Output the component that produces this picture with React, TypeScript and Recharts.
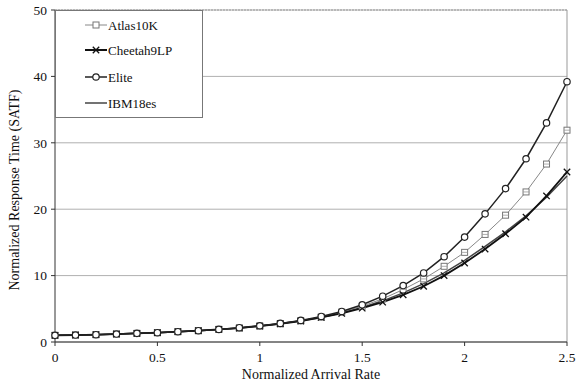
import React from 'react';
import { LineChart, Line, XAxis, YAxis, CartesianGrid, ReferenceLine } from 'recharts';

const arrivalRate = [0, 0.1, 0.2, 0.3, 0.4, 0.5, 0.6, 0.7, 0.8, 0.9, 1.0, 1.1, 1.2, 1.3, 1.4, 1.5, 1.6, 1.7, 1.8, 1.9, 2.0, 2.1, 2.2, 2.3, 2.4, 2.5];
const atlas10K = [1.0, 1.05, 1.1, 1.2, 1.3, 1.4, 1.55, 1.7, 1.9, 2.1, 2.4, 2.75, 3.2, 3.75, 4.5, 5.4, 6.5, 7.9, 9.5, 11.4, 13.5, 16.2, 19.1, 22.6, 26.8, 31.9];
const cheetah9LP = [1.0, 1.05, 1.1, 1.2, 1.3, 1.4, 1.55, 1.7, 1.9, 2.1, 2.4, 2.75, 3.15, 3.7, 4.3, 5.1, 6.0, 7.1, 8.4, 10.0, 11.9, 14.0, 16.3, 18.8, 22.0, 25.6];
const elite = [1.0, 1.05, 1.1, 1.2, 1.3, 1.4, 1.55, 1.7, 1.9, 2.15, 2.45, 2.8, 3.25, 3.85, 4.6, 5.6, 6.9, 8.5, 10.4, 12.85, 15.8, 19.3, 23.1, 27.6, 33.0, 39.2];
const ibm18es = [1.0, 1.05, 1.1, 1.2, 1.3, 1.4, 1.55, 1.7, 1.9, 2.1, 2.4, 2.75, 3.2, 3.7, 4.4, 5.2, 6.2, 7.4, 8.8, 10.4, 12.3, 14.4, 16.6, 19.0, 21.8, 25.0];
const xTicks = [0, 0.5, 1, 1.5, 2, 2.5];
const yTicks = [0, 10, 20, 30, 40, 50];
const seriesNames = ['Atlas10K', 'Cheetah9LP', 'Elite', 'IBM18es'];

const data = arrivalRate.map((x, i) => ({
  x,
  atlas: atlas10K[i],
  cheetah: cheetah9LP[i],
  elite: elite[i],
  ibm: ibm18es[i],
}));

const FONT = '"Liberation Serif", "DejaVu Serif", serif';

const SquareDot = (props: any) => {
  const { cx, cy, index } = props;
  if (cx == null || cy == null) return <g key={`s${index}`} />;
  return (
    <g key={`s${index}`}>
      <rect x={cx - 3} y={cy - 3} width={6} height={6} fill="#fff" stroke="#777" strokeWidth={1} />
      <line x1={cx - 3} y1={cy} x2={cx + 3} y2={cy} stroke="#999" strokeWidth={0.8} />
    </g>
  );
};

const CrossDot = (props: any) => {
  const { cx, cy, index } = props;
  if (cx == null || cy == null) return <g key={`c${index}`} />;
  return (
    <g key={`c${index}`}>
      <line x1={cx - 3.2} y1={cy - 3.2} x2={cx + 3.2} y2={cy + 3.2} stroke="#111" strokeWidth={1.3} />
      <line x1={cx - 3.2} y1={cy + 3.2} x2={cx + 3.2} y2={cy - 3.2} stroke="#111" strokeWidth={1.3} />
    </g>
  );
};

const CircleDot = (props: any) => {
  const { cx, cy, index } = props;
  if (cx == null || cy == null) return <g key={`e${index}`} />;
  return <circle key={`e${index}`} cx={cx} cy={cy} r={3.2} fill="#fff" stroke="#222" strokeWidth={1.2} />;
};

const legendItems = [
  { name: seriesNames[0], color: '#888', width: 1, marker: 'square', y: 15 },
  { name: seriesNames[1], color: '#111', width: 2, marker: 'cross', y: 40 },
  { name: seriesNames[2], color: '#222', width: 1.5, marker: 'circle', y: 67 },
  { name: seriesNames[3], color: '#444', width: 1.5, marker: 'none', y: 93 },
];

const LegendBox = () => (
  <svg width={148} height={108} style={{ position: 'absolute', left: 55, top: 10 }}>
    <rect x={0.5} y={0.5} width={147} height={107} fill="#fff" stroke="#777" />
    {legendItems.map((it) => (
      <g key={it.name}>
        <line x1={30} y1={it.y} x2={52} y2={it.y} stroke={it.color} strokeWidth={it.width} />
        {it.marker === 'square' && <rect x={38} y={it.y - 3} width={6} height={6} fill="#fff" stroke="#777" />}
        {it.marker === 'cross' && (
          <g>
            <line x1={37.8} y1={it.y - 3.2} x2={44.2} y2={it.y + 3.2} stroke="#111" strokeWidth={1.3} />
            <line x1={37.8} y1={it.y + 3.2} x2={44.2} y2={it.y - 3.2} stroke="#111" strokeWidth={1.3} />
          </g>
        )}
        {it.marker === 'circle' && <circle cx={41} cy={it.y} r={3.2} fill="#fff" stroke="#222" strokeWidth={1.2} />}
        <text x={53} y={it.y + 4.5} fontFamily={FONT} fontSize={13} fill="#111">{it.name}</text>
      </g>
    ))}
  </svg>
);

const YLabel = () => (
  <text
    x={14}
    y={190}
    transform="rotate(-90 14 190)"
    textAnchor="middle"
    dominantBaseline="central"
    fontFamily={FONT}
    fontSize={14}
    fill="#111"
  >
    Normalized Response Time (SATF)
  </text>
);

export default function App() {
  return (
    <div style={{ position: 'absolute', left: 0, top: 0, width: 588, height: 383, background: '#fff' }}>
      <LineChart width={588} height={383} data={data} margin={{ top: 10, right: 21, left: 0, bottom: 0 }}>
        <CartesianGrid vertical={false} stroke="#b0b0b0" strokeWidth={1} />
        <XAxis
          dataKey="x"
          type="number"
          domain={[0, 2.5]}
          ticks={xTicks}
          height={41}
          tick={{ fontFamily: FONT, fontSize: 13.5, fill: '#111' }}
          tickLine={{ stroke: '#333' }}
          axisLine={{ stroke: '#333' }}
          tickSize={4}
          tickMargin={6}
          label={{ value: 'Normalized Arrival Rate', position: 'insideBottom', offset: 4, fontFamily: FONT, fontSize: 14, fill: '#111' }}
        />
        <YAxis
          type="number"
          domain={[0, 50]}
          ticks={yTicks}
          width={55}
          tick={{ fontFamily: FONT, fontSize: 13.5, fill: '#111' }}
          tickLine={{ stroke: '#333' }}
          axisLine={{ stroke: '#333' }}
          tickSize={4}
          tickMargin={4}
        />
        <ReferenceLine x={2.5} stroke="#999" strokeWidth={1} />
        <ReferenceLine y={50} stroke="#999" strokeWidth={1} strokeDasharray="2 1" />
        <Line dataKey="ibm" name={seriesNames[3]} stroke="#444" strokeWidth={1.5} dot={false} isAnimationActive={false} />
        <Line dataKey="atlas" name={seriesNames[0]} stroke="#888" strokeWidth={1} dot={SquareDot} isAnimationActive={false} />
        <Line dataKey="cheetah" name={seriesNames[1]} stroke="#111" strokeWidth={1.8} dot={CrossDot} isAnimationActive={false} />
        <Line dataKey="elite" name={seriesNames[2]} stroke="#222" strokeWidth={1.5} dot={CircleDot} isAnimationActive={false} />
        <YLabel />
      </LineChart>
      <LegendBox />
    </div>
  );
}
